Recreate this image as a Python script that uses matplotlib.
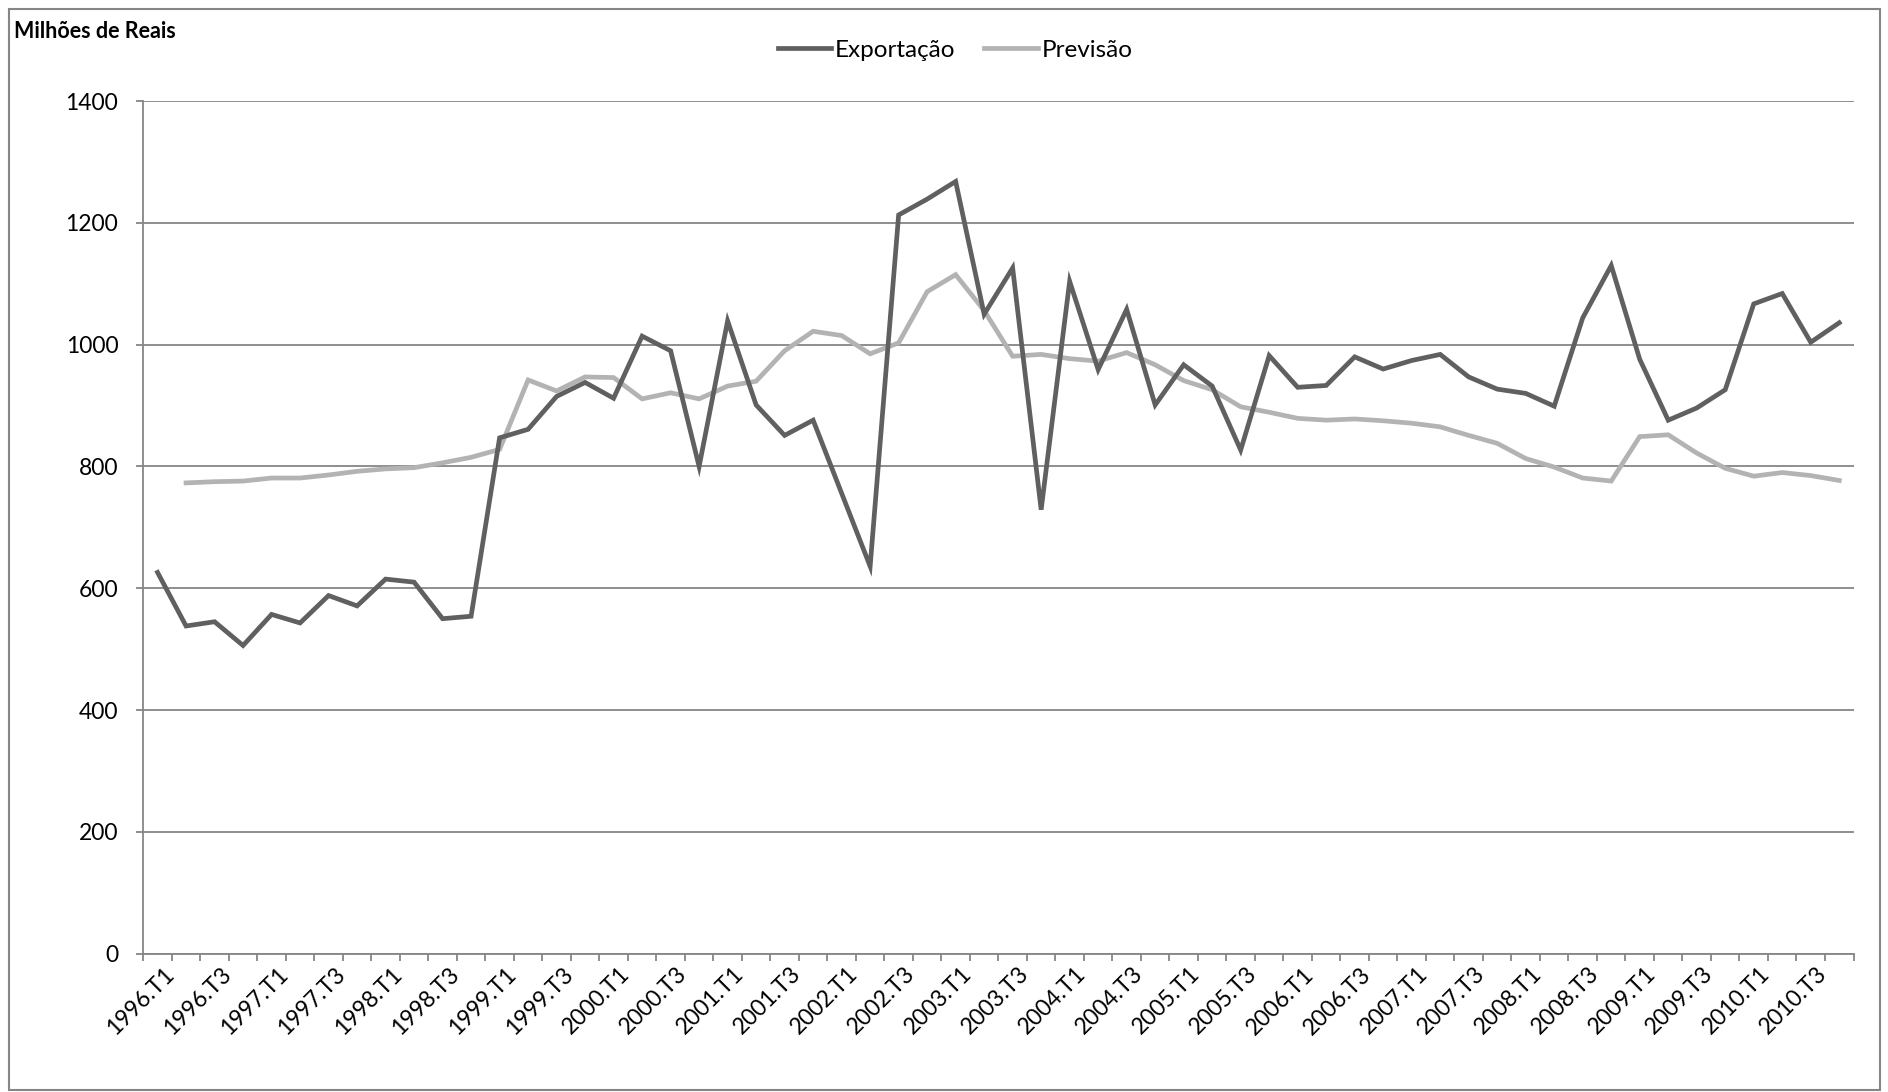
import matplotlib
matplotlib.use("Agg")
import matplotlib.pyplot as plt
from matplotlib.patches import Rectangle
from matplotlib.ticker import MultipleLocator, FixedLocator, NullFormatter

plt.rcParams['font.family'] = ['Lato', 'DejaVu Sans']

# Quarterly series, 1996.T1 .. 2010.T4
years = list(range(1996, 2011))
quarters = [f"{y}.T{q}" for y in years for q in range(1, 5)]

exportacao = [626, 538, 545, 506, 557, 543, 588, 571, 615, 610, 550, 554,
              847, 861, 915, 938, 912, 1014, 990, 800, 1039, 901, 851, 876,
              756, 636, 1213, 1239, 1268, 1050, 1126, 729, 1104, 959, 1058, 901,
              967, 932, 827, 982, 930, 933, 980, 960, 974, 984, 947, 927,
              920, 899, 1044, 1130, 976, 876, 896, 926, 1067, 1084, 1004, 1036]

previsao = [None, 773, 775, 776, 781, 781, 786, 792, 796, 798, 806, 815,
            828, 942, 924, 947, 946, 911, 921, 911, 932, 940, 990, 1022,
            1015, 985, 1003, 1087, 1115, 1056, 981, 984, 977, 973, 987, 967,
            941, 926, 898, 889, 879, 876, 878, 875, 871, 865, 851, 838,
            813, 799, 781, 776, 849, 852, 822, 797, 784, 790, 785, 777]

# every other quarter is labelled on the category axis
label_idx = list(range(0, len(quarters), 2))

W, H = 1888, 1092
fig = plt.figure(figsize=(W / 100, H / 100), dpi=100)
fig.patch.set_facecolor('white')

left, right, top, bottom = 143.3, 1853.5, 101.1, 953.6
ax = fig.add_axes([left / W, 1 - bottom / H, (right - left) / W, (bottom - top) / H])

x = list(range(len(quarters)))
prev_x = [i for i, v in zip(x, previsao) if v is not None]
prev_y = [v for v in previsao if v is not None]

dark = '#606060'
light = '#b3b3b3'
axis_col = '#868686'

ax.plot(x, exportacao, color=dark, lw=3.4, solid_joinstyle='miter', label='Exportação', zorder=3)
ax.plot(prev_x, prev_y, color=light, lw=3.4, solid_joinstyle='miter', label='Previsão', zorder=2)

ax.set_xlim(-0.5, len(quarters) - 0.5)
ax.set_ylim(0, 1400)
ax.yaxis.set_major_locator(MultipleLocator(200))
ax.grid(axis='y', color=axis_col, lw=1.3)
ax.set_axisbelow(True)

for s in ('top', 'right'):
    ax.spines[s].set_visible(False)
for s in ('left', 'bottom'):
    ax.spines[s].set_color(axis_col)
    ax.spines[s].set_linewidth(1.3)

ax.tick_params(axis='y', direction='out', length=5, width=1.3, color=axis_col,
               pad=13, labelsize=16.5, labelcolor='black')

# boundary tick marks between categories
ax.xaxis.set_major_locator(FixedLocator([i - 0.5 for i in range(len(quarters) + 1)]))
ax.xaxis.set_major_formatter(NullFormatter())
ax.tick_params(axis='x', direction='out', length=5, width=1.3, color=axis_col)

for i in label_idx:
    ax.annotate(quarters[i], xy=(i, 0), xycoords=('data', 'axes fraction'),
                xytext=(4, -7), textcoords='offset points',
                rotation=45, rotation_mode='anchor', ha='right', va='top',
                fontsize=16.5, color='black', annotation_clip=False)

leg = ax.legend(loc='center', bbox_to_anchor=(955 / W, 1 - 50 / H),
                bbox_transform=fig.transFigure, ncol=2, frameon=False,
                fontsize=17.5, handlelength=2.2, handletextpad=0.15,
                columnspacing=1.2)

fig.text(14.5 / W, 1 - 32 / H, 'Milhões de Reais', fontsize=15.5,
         fontweight='bold', va='center', ha='left')

fig.add_artist(Rectangle((9 / W, 2 / H), (1880 - 9) / W, (1092 - 2 - 9) / H,
                         transform=fig.transFigure, fill=False,
                         edgecolor=axis_col, lw=1.5))

fig.savefig('out.png', dpi=100, facecolor='white')
